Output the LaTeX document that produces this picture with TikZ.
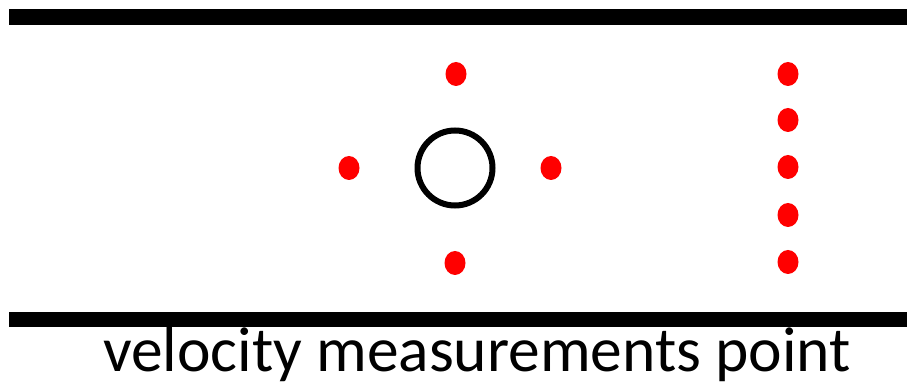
\documentclass[tikz,border=0pt]{standalone}
\usepackage{fontspec}
\setmainfont{Carlito}
\usepackage{tikz}

\begin{document}
\begin{tikzpicture}[x=0.75pt, y=-0.75pt]
    \useasboundingbox (0,0) rectangle (907,384);

    % Channel walls
    \fill[black] (9,9) rectangle (907,25);
    \fill[black] (9,312) rectangle (907,327);

    % Cylinder
    \draw[line width=4.5pt] (455,168) circle (37.5);

    % Points around the cylinder
    \foreach \px/\py in {456/74, 349/168, 551/168, 455/263}
        \fill[red] (\px,\py) ellipse (10.5 and 12);

    % Points downstream
    \foreach \py in {74,120,167,215,262}
        \fill[red] (788,\py) ellipse (10.5 and 12);

    % Label
    \node[inner sep=0pt, anchor=base] (label) at (477,372)
        {\fontsize{47.6}{57}\selectfont velocity measurements point};
\end{tikzpicture}
\end{document}
